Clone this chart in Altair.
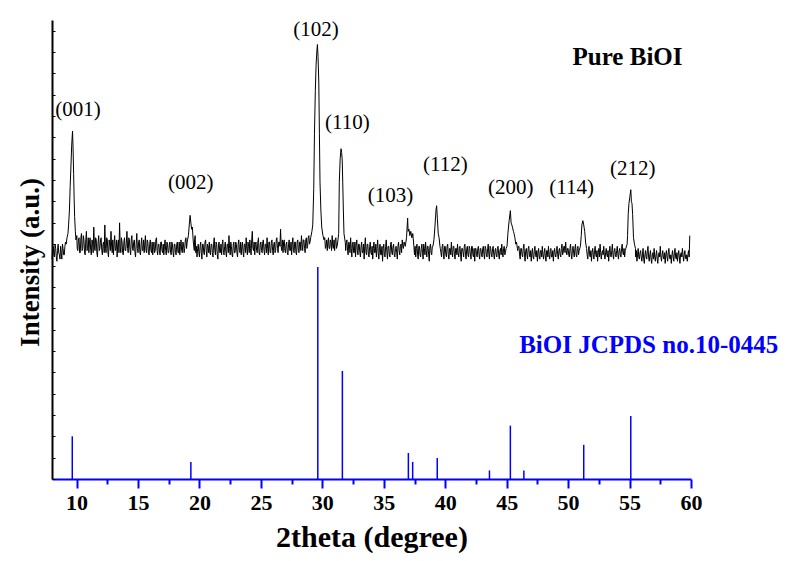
import altair as alt
import pandas as pd

# ---------------- data ----------------
# scan read at 0.05 deg: values at 8.00, 8.10, ... and at 8.05, 8.15, ...
scan_start = 8.0
scan_step = 0.1
noise_vals = [
    10.3, 10.9, 10.4, 10.8, 10.2, 11.0, 10.5, 10.9, 10.3, 10.8,   # 8
    10.5, 11.1, 10.6, 11.0, 11.2, 12.0, 14.5, 14.0, 12.0, 11.2,   # 9
    11.4, 10.7, 11.3, 10.6, 11.5, 10.8, 11.2, 10.5, 11.6, 10.8,   # 10
    10.6, 11.3, 10.5, 11.1, 11.8, 10.7, 11.2, 10.4, 11.4, 10.8,   # 11
    11.3, 10.5, 11.1, 11.9, 10.6, 11.2, 10.4, 11.0, 11.6, 10.6,   # 12
    10.5, 11.4, 10.8, 10.4, 11.2, 12.0, 10.6, 11.1, 10.5, 11.3,   # 13
    10.7, 11.6, 10.6, 11.2, 10.5, 11.4, 10.7, 11.2, 10.4, 11.5,   # 14
    10.6, 11.2, 10.5, 11.3, 10.7, 10.6, 11.4, 10.6, 11.1, 10.5,   # 15
    11.2, 10.6, 10.5, 11.1, 10.7, 11.3, 10.5, 11.0, 10.5, 11.1,   # 16
    10.6, 10.5, 11.2, 10.5, 11.0, 10.6, 11.1, 10.5, 11.0, 10.4,   # 17
    11.0, 10.5, 11.1, 10.6, 10.5, 11.2, 10.6, 11.0, 10.8, 11.3,   # 18
    10.8, 11.2, 11.3, 11.6, 12.3, 11.8, 11.2, 10.6, 10.4, 11.0,   # 19
    10.4, 11.1, 10.3, 11.0, 10.5, 11.2, 10.4, 10.9, 11.1, 10.5,   # 20
    11.0, 10.4, 11.3, 10.5, 11.0, 10.3, 11.1, 10.6, 10.5, 11.2,   # 21
    10.5, 11.1, 10.4, 11.0, 11.4, 10.5, 10.9, 10.4, 11.1, 10.6,   # 22
    11.0, 10.4, 11.2, 10.6, 10.5, 11.1, 10.4, 11.0, 11.3, 10.5,   # 23
    10.9, 11.2, 10.5, 11.6, 10.7, 10.5, 11.1, 10.6, 11.3, 10.5,   # 24
    11.1, 10.6, 11.2, 10.5, 11.0, 11.3, 10.5, 11.1, 10.6, 11.2,   # 25
    10.5, 11.1, 10.7, 11.3, 10.6, 11.1, 11.7, 10.7, 10.6, 11.2,   # 26
    10.6, 11.1, 10.5, 11.2, 10.7, 10.5, 11.3, 10.6, 11.1, 10.5,   # 27
    11.2, 10.6, 11.1, 11.4, 10.7, 11.2, 10.6, 11.3, 10.9, 11.4,   # 28
    11.1, 11.5, 11.4, 13.0, 16.0, 19.0, 20.2, 18.5, 13.9, 11.8,   # 29
    11.5, 10.8, 11.3, 10.9, 10.7, 11.3, 10.8, 11.1, 11.4, 10.8,   # 30
    10.7, 11.3, 10.9, 11.2, 13.9, 15.3, 14.8, 11.5, 11.1, 10.7,   # 31
    11.2, 10.5, 11.0, 11.3, 10.4, 11.1, 10.6, 10.4, 11.2, 10.5,   # 32
    11.0, 10.4, 11.1, 10.6, 10.3, 11.3, 10.5, 11.0, 10.4, 11.1,   # 33
    10.5, 10.3, 11.1, 10.6, 10.4, 11.2, 10.3, 11.0, 10.5, 10.2,   # 34
    11.0, 10.4, 11.2, 10.3, 10.9, 10.4, 11.1, 10.5, 11.0, 10.4,   # 35
    10.9, 10.3, 11.1, 10.5, 11.0, 11.2, 10.8, 11.0, 11.4, 12.0,   # 36
    11.6, 11.4, 11.5, 11.3, 10.9, 10.5, 10.4, 11.0, 10.3, 10.9,   # 37
    10.4, 11.0, 10.3, 10.8, 11.1, 10.4, 10.9, 10.2, 11.0, 10.5,   # 38
    11.0, 11.2, 12.0, 12.6, 11.8, 11.2, 10.8, 10.4, 11.0, 10.3,   # 39
    10.9, 10.4, 11.0, 10.3, 10.8, 11.1, 10.4, 10.9, 10.3, 10.8,   # 40
    11.0, 10.4, 10.9, 10.2, 10.8, 10.4, 11.0, 10.3, 10.9, 10.4,   # 41
    10.8, 10.3, 10.9, 10.4, 10.2, 10.8, 10.4, 10.9, 10.3, 10.8,   # 42
    10.4, 10.9, 10.3, 10.8, 10.4, 11.0, 10.3, 10.8, 10.4, 10.9,   # 43
    10.3, 10.8, 10.4, 10.9, 10.3, 10.8, 11.0, 10.4, 10.9, 10.6,   # 44
    10.9, 11.5, 12.2, 12.5, 11.9, 11.6, 11.3, 11.1, 10.8, 10.7,   # 45
    10.9, 10.3, 10.8, 10.4, 11.0, 10.2, 10.8, 10.3, 10.9, 10.4,   # 46
    10.2, 10.8, 10.3, 10.9, 10.4, 10.2, 10.8, 10.3, 10.7, 10.9,   # 47
    10.3, 10.8, 10.2, 10.7, 10.9, 10.3, 10.8, 10.4, 10.2, 10.8,   # 48
    10.4, 10.9, 10.3, 10.8, 10.4, 11.0, 10.6, 10.9, 11.1, 10.5,   # 49
    10.8, 10.4, 11.0, 10.3, 10.9, 10.4, 11.0, 10.4, 10.9, 10.6,   # 50
    10.9, 11.5, 12.1, 11.7, 11.0, 10.7, 10.3, 10.9, 10.4, 10.2,   # 51
    10.8, 10.3, 10.9, 10.4, 10.2, 10.8, 11.0, 10.3, 10.7, 10.9,   # 52
    10.3, 10.8, 10.4, 10.2, 10.9, 10.4, 11.0, 10.3, 10.8, 10.4,   # 53
    10.9, 10.3, 10.8, 10.4, 11.0, 10.5, 10.4, 10.9, 11.0, 12.4,   # 54
    13.2, 13.0, 12.4, 11.3, 10.9, 10.4, 10.2, 10.8, 10.3, 10.7,   # 55
    10.2, 10.8, 10.1, 10.7, 10.3, 10.9, 10.2, 10.7, 10.1, 10.6,   # 56
    10.8, 10.2, 10.7, 10.1, 10.6, 10.9, 10.2, 10.7, 10.3, 10.1,   # 57
    10.7, 10.2, 10.8, 10.3, 10.1, 10.7, 10.2, 10.8, 10.3, 10.2,   # 58
    10.7, 10.1, 10.6, 10.8, 10.2, 10.7, 10.3, 10.2, 10.7, 11.4,   # 59
]
mid_start = 8.05
noise_mid = [
    10.8, 10.5, 11.0, 10.4, 10.7, 10.6, 10.3, 10.6, 11.0, 10.5,   # 8
    10.9, 10.7, 10.8, 11.0, 11.5, 13.0, 15.5, 13.0, 11.5, 11.0,   # 9
    10.8, 11.2, 10.6, 11.3, 10.7, 11.4, 10.6, 11.2, 10.7, 11.3,   # 10
    11.1, 10.7, 11.2, 10.6, 11.0, 11.3, 10.6, 11.1, 10.7, 11.2,   # 11
    10.7, 11.0, 10.6, 10.8, 11.3, 10.6, 11.2, 10.7, 10.9, 11.2,   # 12
    11.0, 10.7, 11.2, 11.0, 10.6, 10.9, 11.3, 10.6, 11.1, 10.7,   # 13
    11.1, 10.8, 11.3, 10.7, 11.2, 10.8, 11.1, 10.6, 11.0, 10.8,   # 14
    11.1, 10.6, 11.0, 10.7, 11.2, 11.0, 10.7, 11.2, 10.6, 11.0,   # 15
    10.7, 11.1, 10.9, 10.6, 11.2, 10.7, 11.0, 10.6, 11.1, 10.7,   # 16
    11.0, 10.9, 10.7, 11.1, 10.6, 11.0, 10.6, 11.1, 10.6, 11.0,   # 17
    10.6, 11.0, 10.6, 11.1, 10.9, 10.7, 11.1, 10.6, 11.2, 10.8,   # 18
    11.2, 11.0, 11.4, 12.0, 12.1, 11.5, 11.4, 10.9, 10.8, 10.6,   # 19
    10.9, 10.6, 11.0, 10.6, 11.1, 10.7, 11.0, 10.6, 10.6, 11.0,   # 20
    10.6, 11.0, 10.7, 11.1, 10.5, 11.0, 10.6, 11.0, 11.0, 10.6,   # 21
    10.9, 10.6, 11.0, 10.6, 10.8, 11.1, 10.5, 11.0, 10.6, 11.1,   # 22
    10.6, 11.0, 10.7, 11.1, 10.9, 10.6, 11.0, 10.6, 10.8, 11.1,   # 23
    10.6, 10.8, 11.2, 10.8, 11.1, 11.0, 10.7, 11.1, 10.6, 11.0,   # 24
    10.7, 11.1, 10.7, 11.0, 10.6, 10.8, 11.1, 10.6, 11.1, 10.7,   # 25
    11.0, 10.6, 11.2, 10.8, 11.1, 10.9, 10.9, 11.2, 11.1, 10.7,   # 26
    11.0, 10.6, 11.0, 10.7, 11.1, 11.0, 10.7, 11.1, 10.6, 11.1,   # 27
    10.7, 11.1, 10.7, 11.0, 11.2, 10.8, 11.2, 10.8, 11.3, 11.0,   # 28
    11.4, 11.2, 12.0, 14.5, 17.5, 19.8, 19.5, 15.5, 12.5, 11.5,   # 29
    11.0, 11.3, 10.8, 11.2, 11.1, 10.8, 11.2, 10.7, 10.9, 11.2,   # 30
    11.2, 10.8, 11.1, 11.5, 14.5, 15.2, 13.0, 11.2, 10.8, 11.1,   # 31
    10.7, 11.1, 10.6, 10.8, 11.0, 10.6, 11.1, 10.9, 10.7, 11.0,   # 32
    10.6, 10.9, 10.6, 11.0, 10.9, 10.6, 11.0, 10.5, 10.9, 10.6,   # 33
    10.9, 10.8, 10.6, 11.0, 10.8, 10.6, 10.9, 10.5, 10.9, 10.8,   # 34
    10.5, 10.9, 10.6, 10.9, 10.5, 11.0, 10.6, 10.9, 10.5, 10.8,   # 35
    10.6, 10.9, 10.7, 10.9, 10.6, 10.9, 11.1, 11.2, 11.6, 11.9,   # 36
    11.5, 11.6, 11.2, 11.4, 10.8, 10.9, 10.8, 10.5, 10.9, 10.5,   # 37
    10.8, 10.6, 11.0, 10.5, 10.7, 10.9, 10.5, 10.9, 10.6, 10.9,   # 38
    11.1, 11.5, 12.3, 12.4, 11.4, 11.0, 10.6, 10.9, 10.5, 10.9,   # 39
    10.5, 10.9, 10.5, 10.8, 10.5, 10.6, 10.9, 10.5, 10.8, 10.5,   # 40
    10.6, 10.8, 10.5, 10.8, 10.6, 10.9, 10.5, 10.8, 10.5, 10.9,   # 41
    10.5, 10.9, 10.5, 10.8, 10.8, 10.5, 10.8, 10.5, 10.8, 10.5,   # 42
    10.8, 10.5, 10.9, 10.5, 10.8, 10.5, 10.9, 10.5, 10.8, 10.5,   # 43
    10.7, 10.5, 10.8, 10.5, 10.7, 10.5, 10.6, 10.8, 10.5, 10.8,   # 44
    11.2, 11.9, 12.4, 12.2, 11.8, 11.4, 11.2, 10.9, 10.6, 10.9,   # 45
    10.5, 10.8, 10.5, 10.8, 10.5, 10.7, 10.5, 10.8, 10.5, 10.7,   # 46
    10.6, 10.4, 10.7, 10.5, 10.7, 10.6, 10.4, 10.7, 10.4, 10.5,   # 47
    10.6, 10.4, 10.7, 10.4, 10.5, 10.7, 10.4, 10.7, 10.6, 10.5,   # 48
    10.7, 10.5, 10.7, 10.5, 10.8, 10.5, 10.9, 10.6, 10.7, 10.8,   # 49
    10.5, 10.8, 10.5, 10.7, 10.6, 10.8, 10.5, 10.8, 10.5, 10.8,   # 50
    11.2, 11.8, 11.9, 11.3, 10.8, 10.5, 10.7, 10.5, 10.7, 10.6,   # 51
    10.5, 10.7, 10.5, 10.7, 10.6, 10.4, 10.6, 10.6, 10.5, 10.5,   # 52
    10.6, 10.5, 10.7, 10.6, 10.5, 10.7, 10.5, 10.7, 10.5, 10.7,   # 53
    10.5, 10.7, 10.5, 10.8, 10.6, 10.8, 10.7, 10.6, 11.3, 12.8,   # 54
    13.3, 12.7, 11.8, 11.1, 10.6, 10.7, 10.5, 10.4, 10.6, 10.4,   # 55
    10.5, 10.3, 10.5, 10.4, 10.7, 10.4, 10.5, 10.3, 10.5, 10.3,   # 56
    10.4, 10.5, 10.3, 10.5, 10.4, 10.4, 10.5, 10.4, 10.6, 10.5,   # 57
    10.4, 10.6, 10.4, 10.5, 10.5, 10.4, 10.6, 10.4, 10.6, 10.5,   # 58
    10.4, 10.5, 10.4, 10.5, 10.5, 10.4, 10.5, 10.5, 10.4,         # 59
]

# measured peak profiles (2theta, intensity)
p001_t = [9.15, 9.22, 9.30, 9.35, 9.42, 9.48, 9.55, 9.60, 9.67, 9.71, 9.76, 9.80, 9.84, 9.90, 9.95, 10.02]
p001_v = [11.0, 11.3, 11.5, 11.9, 12.6, 13.7, 14.8, 15.6, 16.3, 15.6, 14.3, 13.2, 12.3, 11.6, 11.2, 11.4]
p002_t = [19.00, 19.10, 19.17, 19.24, 19.30, 19.36, 19.42, 19.50, 19.58]
p002_v = [11.1, 11.4, 11.9, 12.35, 12.0, 11.7, 11.8, 11.1, 10.7]
p102_t = [29.05, 29.15, 29.22, 29.30, 29.36, 29.43, 29.49, 29.56, 29.60, 29.65, 29.71, 29.76, 29.81, 29.88, 29.95, 30.05, 30.14]
p102_v = [11.3, 11.6, 11.9, 13.6, 16.2, 18.2, 19.4, 20.1, 20.35, 19.8, 18.6, 16.2, 13.9, 12.6, 11.8, 11.4, 11.2]
p110_t = [31.25, 31.33, 31.38, 31.45, 31.52, 31.57, 31.62, 31.66, 31.71, 31.76, 31.87]
p110_v = [11.1, 11.5, 13.9, 15.0, 15.47, 15.3, 14.9, 13.9, 12.6, 11.5, 11.07]
p103_t = [36.75, 36.85, 36.90, 36.94, 36.98, 37.05, 37.12, 37.20, 37.28, 37.36, 37.45]
p103_v = [10.9, 11.3, 11.8, 12.22, 11.6, 11.7, 11.4, 11.6, 11.3, 11.5, 10.9]
p112_t = [39.00, 39.08, 39.16, 39.25, 39.30, 39.36, 39.43, 39.50, 39.57]
p112_v = [10.9, 11.2, 11.8, 12.6, 12.8, 12.2, 11.5, 11.3, 10.9]
p200_t = [44.95, 45.03, 45.10, 45.20, 45.30, 45.36, 45.42, 45.47, 45.55, 45.60, 45.67, 45.74, 45.80, 45.87]
p200_v = [10.8, 10.9, 11.5, 12.1, 12.57, 12.0, 11.9, 11.8, 11.6, 11.5, 11.3, 11.0, 11.1, 10.8]
p114_t = [50.90, 51.00, 51.07, 51.12, 51.20, 51.27, 51.35, 51.42, 51.50]
p114_v = [10.7, 10.9, 11.4, 11.9, 12.1, 11.9, 11.6, 11.1, 10.8]
p212_t = [54.70, 54.80, 54.84, 54.89, 54.95, 55.02, 55.10, 55.15, 55.20, 55.25, 55.32, 55.40, 55.48]
p212_v = [10.8, 11.0, 11.4, 12.4, 12.9, 13.2, 13.55, 13.0, 12.9, 12.4, 11.3, 11.0, 10.8]

# JCPDS 10-0445 reference sticks
stick_2theta = [9.65, 19.3, 29.63, 31.63, 37.0, 37.35, 39.35, 43.6, 45.3, 46.4, 51.27, 55.1]
stick_int = [2.0, 0.8, 9.93, 5.06, 1.22, 0.8, 0.98, 0.4, 2.5, 0.4, 1.6, 2.95]

# Miller index labels
hkl_text = ["(001)", "(002)", "(102)", "(110)", "(103)", "(112)", "(200)", "(114)", "(212)"]
hkl_x = [10.12, 19.3, 29.49, 32.03, 35.55, 40.02, 45.33, 50.28, 55.26]
hkl_y = [17.3, 13.88, 21.01, 16.67, 13.24, 14.72, 13.63, 13.63, 14.52]

x_major = [10, 15, 20, 25, 30, 35, 40, 45, 50, 55, 60]
x_minor = [12.5, 17.5, 22.5, 27.5, 32.5, 37.5, 42.5, 47.5, 52.5, 57.5]
y_ticks = list(range(0, 22))

# ---------------- assemble ----------------
segments = [(p001_t, p001_v), (p002_t, p002_v), (p102_t, p102_v), (p110_t, p110_v),
            (p103_t, p103_v), (p112_t, p112_v), (p200_t, p200_v), (p114_t, p114_v),
            (p212_t, p212_v)]


def in_segment(t):
    return any(min(st) <= t <= max(st) for st, _ in segments)


rows = []
for start, vals in ((scan_start, noise_vals), (mid_start, noise_mid)):
    for i, v in enumerate(vals):
        t = round(start + i * scan_step, 3)
        if not in_segment(t):
            rows.append((t, v))
for st, sv in segments:
    rows.extend(zip(st, sv))
rows.sort()
pattern = pd.DataFrame(rows, columns=["t", "v"])

sticks = pd.DataFrame({"t": stick_2theta, "v": stick_int, "b": [0] * len(stick_int)})
labels = pd.DataFrame({"text": hkl_text, "t": hkl_x, "v": hkl_y})
note1 = pd.DataFrame({"text": ["Pure BiOI"], "t": [50.36], "v": [19.4]})
note2 = pd.DataFrame({"text": ["BiOI JCPDS no.10-0445"], "t": [67.1], "v": [5.92]})

W, H = 639, 459
FONT = "Liberation Serif"
xscale = alt.Scale(domain=[8, 60], nice=False, zero=False)
yscale = alt.Scale(domain=[0, 21.5], nice=False, zero=False)

line = alt.Chart(pattern).mark_line(color="black", strokeWidth=1).encode(
    x=alt.X("t:Q", scale=xscale, axis=alt.Axis(
        orient="bottom", values=x_major, tickSize=9, tickWidth=2, tickColor="blue",
        domainColor="blue", domainWidth=2, grid=False,
        labelFont=FONT, labelFontSize=22, labelFontWeight="bold", labelColor="black",
        labelPadding=4, labelFlush=False,
        title="2theta (degree)", titleFont=FONT, titleFontSize=30, titleFontWeight="bold",
        titleColor="black", titleBaseline="alphabetic", titleY=67)),
    y=alt.Y("v:Q", scale=yscale, axis=alt.Axis(
        orient="left", ticks=False, labels=False, grid=False,
        domainColor="black", domainWidth=2,
        title="Intensity (a.u.)", titleFont=FONT, titleFontSize=27, titleFontWeight="bold",
        titleColor="black", titleAngle=270, titleBaseline="alphabetic",
        titleX=-14, titleY=242)),
)

stick_layer = alt.Chart(sticks).mark_rule(color="blue", strokeWidth=1.5).encode(
    x=alt.X("t:Q", scale=xscale, axis=alt.Axis(
        orient="bottom", values=x_minor, tickSize=5, tickWidth=2, tickColor="blue",
        domain=False, labels=False, grid=False, title=None)),
    y=alt.Y("v:Q", scale=yscale, axis=alt.Axis(
        orient="right", offset=-W, values=y_ticks, tickSize=3, tickWidth=1,
        tickColor="black", domain=False, labels=False, grid=False, title=None)),
    y2="b:Q",
)

label_layer = alt.Chart(labels).mark_text(
    font=FONT, fontSize=21, align="center", baseline="middle", color="black"
).encode(
    x=alt.X("t:Q", scale=xscale, axis=None),
    y=alt.Y("v:Q", scale=yscale, axis=None),
    text="text:N",
)

note1_layer = alt.Chart(note1).mark_text(
    font=FONT, fontSize=25, fontWeight="bold", align="left", baseline="alphabetic", color="black"
).encode(
    x=alt.X("t:Q", scale=xscale, axis=None),
    y=alt.Y("v:Q", scale=yscale, axis=None),
    text="text:N",
)

note2_layer = alt.Chart(note2).mark_text(
    font=FONT, fontSize=25, fontWeight="bold", align="right", baseline="alphabetic", color="blue"
).encode(
    x=alt.X("t:Q", scale=xscale, axis=None),
    y=alt.Y("v:Q", scale=yscale, axis=None),
    text="text:N",
)

chart = alt.layer(line, stick_layer, label_layer, note1_layer, note2_layer).resolve_scale(
    x="shared", y="shared"
).resolve_axis(
    x="independent", y="independent"
).properties(
    width=W, height=H,
    autosize=alt.AutoSizeParams(type="none"),
    padding={"left": 44, "top": 12, "right": 88, "bottom": 74},
).configure_view(stroke=None)

chart.save("out.html", embed_options={"renderer": "svg", "actions": False})
